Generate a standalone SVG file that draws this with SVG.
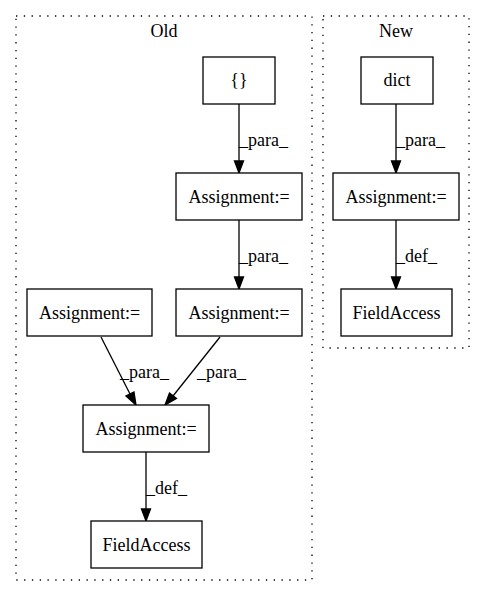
<svg xmlns="http://www.w3.org/2000/svg" width="485" height="596" viewBox="0 0 485 596">
<style>
text{font-family:"Liberation Serif","Times New Roman",serif;font-size:18px;fill:#000}
.n{text-anchor:middle}
.box{fill:#fff;stroke:#000;stroke-width:1.3}
.cl{fill:none;stroke:#000;stroke-width:1.3;stroke-dasharray:1.3,6.5}
.e{fill:none;stroke:#000;stroke-width:1.3}
.ah{fill:#000;stroke:#000;stroke-width:1.3}
</style>
<rect width="485" height="596" fill="#fff"/>
<g id="cluster_old">
<rect class="cl" x="16" y="16" width="296" height="564"/>
<text class="n" x="164" y="37">Old</text>
</g>
<g id="cluster_new">
<rect class="cl" x="323" y="16" width="146" height="332"/>
<text class="n" x="396" y="37">New</text>
</g>
<g id="edges">
<path class="e" d="M239,104V161"/><polygon class="ah" points="234.5,161 239,173 243.5,161"/>
<text x="239" y="146">_para_</text>
<path class="e" d="M239,220V277"/><polygon class="ah" points="234.5,277 239,289 243.5,277"/>
<text x="239" y="262">_para_</text>
<path class="e" d="M101,337L130,394"/><polygon class="ah" points="126,396 136,405 134,392"/>
<text x="120" y="378">_para_</text>
<path class="e" d="M220,337L173,396"/><polygon class="ah" points="169.5,393 165,405 176.5,398.5"/>
<text x="197" y="378">_para_</text>
<path class="e" d="M146,452V509"/><polygon class="ah" points="141.5,509 146,521 150.5,509"/>
<text x="146" y="494">_def_</text>
<path class="e" d="M396,104V161"/><polygon class="ah" points="391.5,161 396,173 400.5,161"/>
<text x="396" y="146">_para_</text>
<path class="e" d="M396,220V277"/><polygon class="ah" points="391.5,277 396,289 400.5,277"/>
<text x="396" y="262">_def_</text>
</g>
<g id="n_braces"><rect class="box" x="203" y="57" width="72" height="47"/><text class="n" x="239" y="86">{}</text></g>
<g id="n_assign1"><rect class="box" x="176" y="173" width="126" height="47"/><text class="n" x="239" y="203">Assignment:=</text></g>
<g id="n_assign2"><rect class="box" x="176" y="289" width="126" height="47"/><text class="n" x="239" y="319">Assignment:=</text></g>
<g id="n_assign3"><rect class="box" x="27" y="289" width="125" height="47"/><text class="n" x="89.5" y="319">Assignment:=</text></g>
<g id="n_assign4"><rect class="box" x="83" y="405" width="126" height="47"/><text class="n" x="146" y="435">Assignment:=</text></g>
<g id="n_field1"><rect class="box" x="91" y="521" width="111" height="47"/><text class="n" x="146.5" y="551">FieldAccess</text></g>
<g id="n_dict"><rect class="box" x="361" y="57" width="72" height="47"/><text class="n" x="397" y="86">dict</text></g>
<g id="n_assign5"><rect class="box" x="333" y="173" width="126" height="47"/><text class="n" x="396" y="203">Assignment:=</text></g>
<g id="n_field2"><rect class="box" x="341" y="289" width="111" height="47"/><text class="n" x="396.5" y="319">FieldAccess</text></g>
</svg>
